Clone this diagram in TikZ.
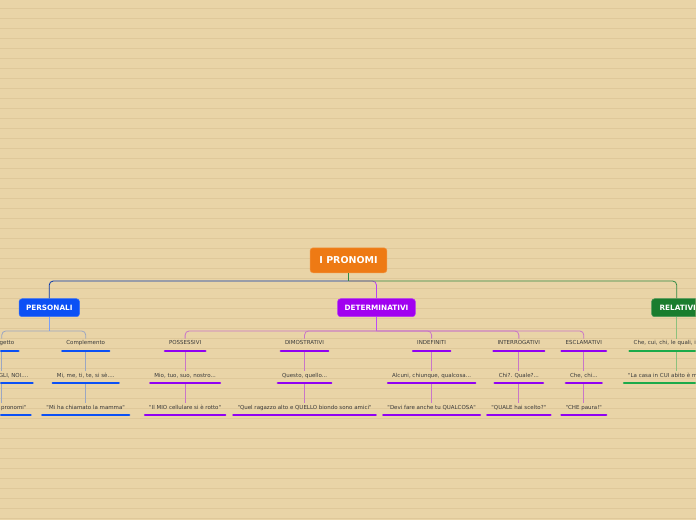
\documentclass[tikz,border=0pt]{standalone}
\usepackage{fontspec}
\newfontfamily\mapfont{DejaVu Sans}

\definecolor{paper}{HTML}{E9D4A7}
\definecolor{paperline}{HTML}{DFC89A}
\definecolor{rootcol}{HTML}{EE7A14}
\definecolor{perscol}{HTML}{0B50F5}
\definecolor{detcol}{HTML}{A100F0}
\definecolor{relcol}{HTML}{1A7D2E}
\definecolor{relline}{HTML}{1BAA4A}
\definecolor{textcol}{HTML}{3A3A3A}

\tikzset{
  topic/.style={fill=#1, draw=#1!80!white, line width=0.5pt, rounded corners=3pt,
    text=white, font=\mapfont\bfseries\fontsize{7.3}{8}\selectfont,
    minimum height=18pt, inner xsep=7pt},
  leaf/.style={font=\mapfont\fontsize{5.5}{6}\selectfont, text=textcol,
    inner xsep=4pt, inner ysep=0pt, text height=4pt, text depth=1.2pt},
  uline/.style={draw=#1, line width=2.4pt, line cap=round},
  fork/.style={draw=#1, line width=0.8pt, rounded corners=4pt},
  stem/.style={draw=#1, line width=0.8pt, shorten <=1.5pt, shorten >=2pt},
}

\begin{document}
\begin{tikzpicture}[x=1pt, y=-1pt]

  % ── paper ────────────────────────────────────────────────────────────────
  \fill[paper] (0,0) rectangle (696,520);
  \foreach \k in {0,...,51}
    \draw[paperline, line width=0.6pt] (0,8.3+10*\k) -- (696,8.3+10*\k);
  \useasboundingbox (0,0) rectangle (696,520);
  \clip (0,0) rectangle (696,520);

  % ── main topics ──────────────────────────────────────────────────────────
  \node[topic=rootcol, font=\mapfont\bfseries\fontsize{9.5}{11}\selectfont,
        minimum width=77pt, minimum height=25pt] (root) at (348.5,260.5) {I PRONOMI};
  \node[topic=perscol] (pers) at (49,308) {PERSONALI};
  \node[topic=detcol] (det) at (376.5,308) {DETERMINATIVI};
  \node[topic=relcol, inner xsep=8pt] (rel) at (678,308) {RELATIVI};

  % ── PERSONALI ────────────────────────────────────────────────────────────
  \node[leaf] (sogg) at (1.5,343.7) {Soggetto};
  \node[leaf] (compl) at (85.5,343.7) {Complemento};
  \node[leaf] (soggex) at (1.5,376) {IO, TU, EGLI, NOI....};
  \node[leaf] (complex) at (85.5,376) {Mi, me, ti, te, si sè....};
  \node[leaf] (soggfrase) at (1.5,408) {"Io uso i pronomi"};
  \node[leaf] (complfrase) at (85.5,408) {"Mi ha chiamato la mamma"};

  % ── DETERMINATIVI ────────────────────────────────────────────────────────
  \node[leaf] (poss) at (185,343.7) {POSSESSIVI};
  \node[leaf] (dimo) at (304.5,343.7) {DIMOSTRATIVI};
  \node[leaf] (indef) at (431.7,343.7) {INDEFINITI};
  \node[leaf] (inter) at (519,343.7) {INTERROGATIVI};
  \node[leaf] (escl) at (584,343.7) {ESCLAMATIVI};

  \node[leaf] (possex) at (185,376) {Mio, tuo, suo, nostro...};
  \node[leaf] (dimoex) at (304.5,376) {Questo, quello...};
  \node[leaf] (indefex) at (431.7,376) {Alcuni, chiunque, qualcosa...};
  \node[leaf] (interex) at (519,376) {Chi?. Quale?...};
  \node[leaf] (esclex) at (584,376) {Che, chi...};

  \node[leaf] (possfrase) at (185,408) {"Il MIO cellulare si è rotto"};
  \node[leaf] (dimofrase) at (304.5,408) {"Quel ragazzo alto e QUELLO biondo sono amici"};
  \node[leaf] (indeffrase) at (431.7,408) {"Devi fare anche tu QUALCOSA"};
  \node[leaf] (interfrase) at (519,408) {"QUALE hai scelto?"};
  \node[leaf] (esclfrase) at (584,408) {"CHE paura!"};

  % ── RELATIVI ─────────────────────────────────────────────────────────────
  \node[leaf] (relex) at (677,343.7) {Che, cui, chi, le quali, il quale...};
  \node[leaf] (relfrase) at (677,376) {"La casa in CUI abito è molto bella"};

  % ── connectors from the root ─────────────────────────────────────────────
  \coordinate (rootfork) at ([yshift=-8pt]root.south);
  \draw[fork=detcol!75!white] (rootfork) -| (det.north);
  \draw[fork=perscol!70!black] (rootfork) -| (pers.north);
  \draw[fork=relcol!90!white] (rootfork) -| ([xshift=-1pt]rel.north);
  \draw[relcol!90!white, line width=0.8pt] (root.south) -- (rootfork);

  % ── forks ────────────────────────────────────────────────────────────────
  \draw[perscol!55!white, line width=0.8pt] (pers.south) -- ++(0,14) coordinate (persfork);
  \foreach \n in {sogg,compl}
    \draw[fork=perscol!35!paper, shorten >=2pt] (persfork) -| (\n.north);

  \draw[detcol!70!white, line width=0.8pt] (det.south) -- ++(0,14) coordinate (detfork);
  \foreach \n in {poss,dimo,indef,inter,escl}
    \draw[fork=detcol!45!paper, shorten >=2pt] (detfork) -| (\n.north);

  \draw[relline!45!paper, line width=0.8pt, shorten >=2pt] (rel.south -| relex.north) -- (relex.north);

  % ── stems between the rows ───────────────────────────────────────────────
  \foreach \a/\b in {sogg/soggex, soggex/soggfrase, compl/complex, complex/complfrase}
    \draw[stem=perscol!35!paper] ([yshift=-4.5pt]\a.south) -- (\b.north);
  \foreach \a/\b in {poss/possex, possex/possfrase, dimo/dimoex, dimoex/dimofrase,
                     indef/indefex, indefex/indeffrase, inter/interex, interex/interfrase,
                     escl/esclex, esclex/esclfrase}
    \draw[stem=detcol!45!paper] ([yshift=-4.5pt]\a.south) -- (\b.north);
  \draw[stem=relline!45!paper] ([yshift=-4.5pt]relex.south) -- (relfrase.north);

  % ── underlines ───────────────────────────────────────────────────────────
  \foreach \n in {sogg,compl,soggex,complex,soggfrase,complfrase}
    \draw[uline=perscol] ([yshift=-4.5pt]\n.south west) -- ([yshift=-4.5pt]\n.south east);
  \foreach \n in {poss,dimo,indef,inter,escl,possex,dimoex,indefex,interex,esclex,
                  possfrase,dimofrase,indeffrase,interfrase,esclfrase}
    \draw[uline=detcol!90!blue] ([yshift=-4.5pt]\n.south west) -- ([yshift=-4.5pt]\n.south east);
  \foreach \n in {relex,relfrase}
    \draw[uline=relline] ([yshift=-4.5pt]\n.south west) -- ([yshift=-4.5pt]\n.south east);

\end{tikzpicture}
\end{document}
